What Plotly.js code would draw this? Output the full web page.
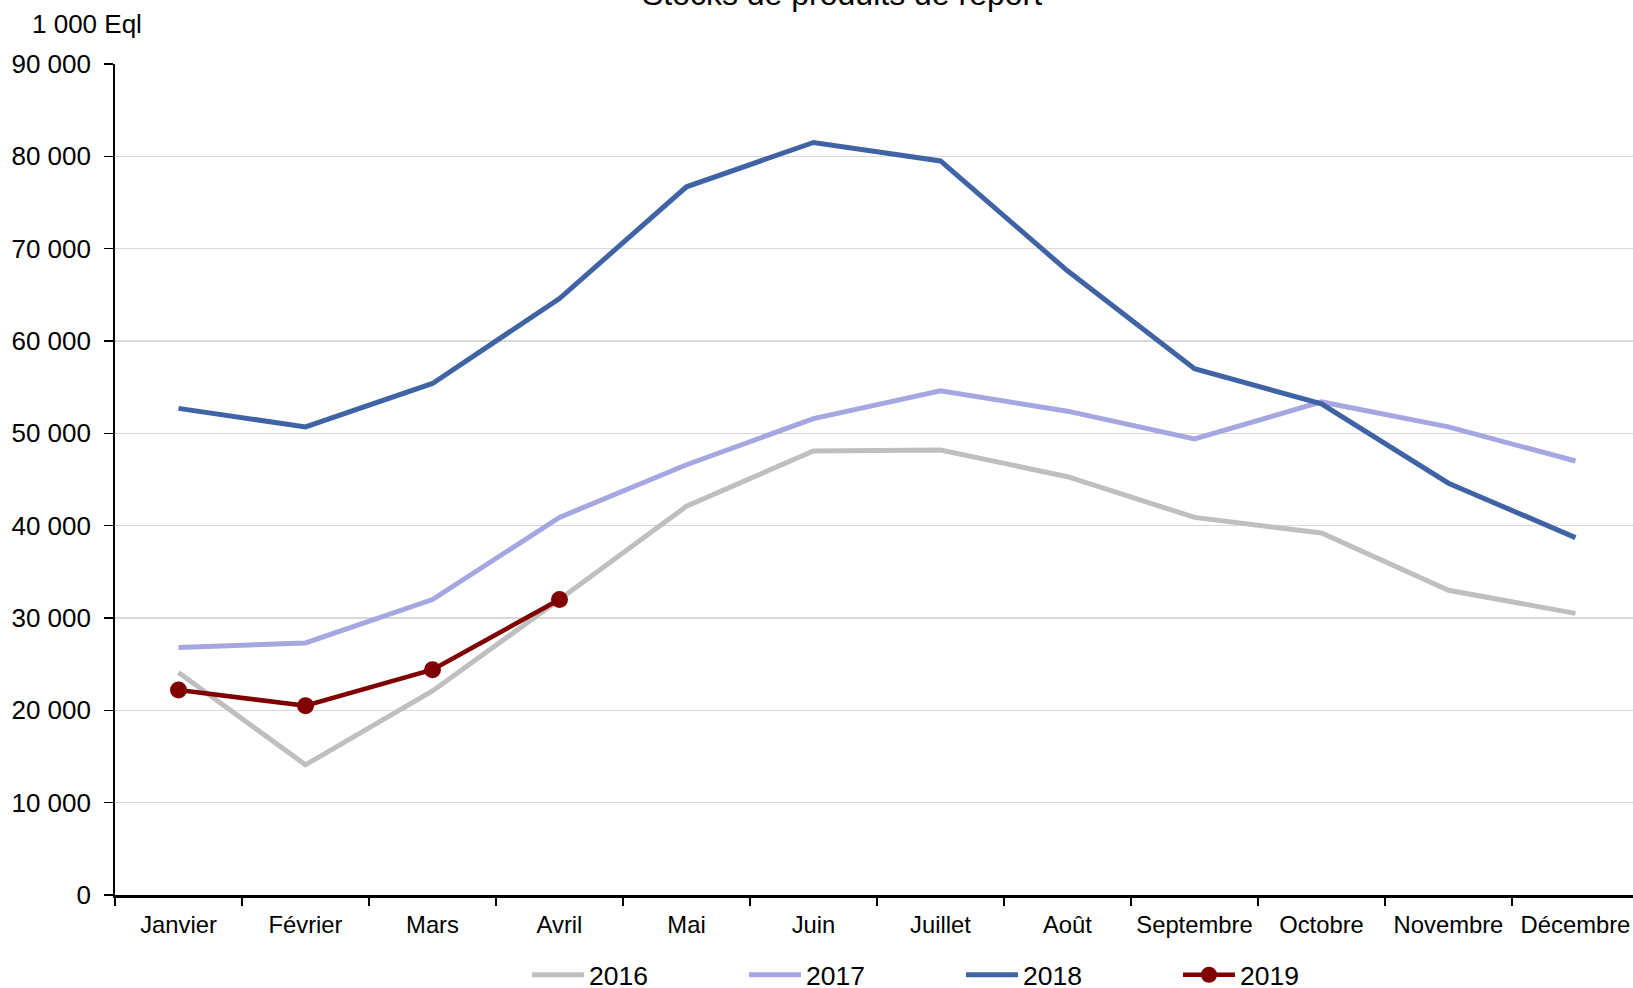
<!DOCTYPE html>
<html>
<head>
<meta charset="utf-8">
<script src="https://cdn.plot.ly/plotly-3.0.1.min.js"></script>
<style>
  html, body { margin: 0; padding: 0; background: #fff; overflow: hidden; }
  #chart { width: 1633px; height: 988px; }
</style>
</head>
<body>
<div id="chart"></div>
<script>
const months = ["Janvier", "Février", "Mars", "Avril", "Mai", "Juin", "Juillet", "Août", "Septembre", "Octobre", "Novembre", "Décembre"];
const s2016 = [24100, 14100, 22100, 32000, 42100, 48100, 48200, 45300, 40900, 39200, 33000, 30500];
const s2017 = [26800, 27300, 32000, 40900, 46600, 51600, 54600, 52400, 49400, 53400, 50700, 47000];
const s2018 = [52700, 50700, 55400, 64600, 76700, 81500, 79500, 67600, 57000, 53200, 44600, 38700];
const s2019 = [22200, 20500, 24400, 32000];
const seriesNames = ["2016", "2017", "2018", "2019"];
const yTicks = [0, 10000, 20000, 30000, 40000, 50000, 60000, 70000, 80000, 90000];

const FONT = "'Liberation Sans', Arial, sans-serif";
const FS_X = 23.8;
const FS_Y = 26;

const traces = [
  { x: months, y: s2016, name: seriesNames[0], type: "scatter", mode: "lines",
    line: { color: "#BFBFBF", width: 5 } },
  { x: months, y: s2017, name: seriesNames[1], type: "scatter", mode: "lines",
    line: { color: "#A6A6E0", width: 5 } },
  { x: months, y: s2018, name: seriesNames[2], type: "scatter", mode: "lines",
    line: { color: "#3F63A5", width: 5 } },
  { x: months.slice(0, s2019.length), y: s2019, name: seriesNames[3], type: "scatter", mode: "lines+markers",
    line: { color: "#800000", width: 4.6 },
    marker: { color: "#800000", size: 17, symbol: "circle" } }
];

const layout = {
  width: 1633,
  height: 988,
  margin: { l: 115, r: 0, t: 64, b: 93, pad: 0 },
  paper_bgcolor: "#ffffff",
  plot_bgcolor: "#ffffff",
  font: { family: FONT, size: FS_X, color: "#000000" },
  separators: ", ",
  title: {
    text: "Stocks de produits de report",
    font: { family: FONT, size: 32, color: "#000000" },
    xref: "container", yref: "container",
    x: 842 / 1633, xanchor: "center",
    y: 1 - 5 / 988, yanchor: "bottom"
  },
  xaxis: {
    type: "category",
    categoryorder: "array",
    categoryarray: months,
    range: [-0.5, 11.453],
    showgrid: false,
    zeroline: false,
    showline: true,
    linecolor: "#000000",
    linewidth: 2.5,
    ticks: "outside",
    tickson: "boundaries",
    ticklen: 8,
    tickwidth: 1.5,
    tickcolor: "#000000",
    tickfont: { family: FONT, size: FS_X, color: "#000000" },
    ticklabelstandoff: 7,
    fixedrange: true
  },
  yaxis: {
    range: [0, 90000],
    tickvals: yTicks,
    tickformat: ",.0f",
    showgrid: true,
    gridcolor: "#D9D9D9",
    gridwidth: 1.6,
    zeroline: false,
    showline: true,
    linecolor: "#000000",
    linewidth: 1.8,
    ticks: "outside",
    ticklen: 9,
    tickwidth: 1.5,
    tickcolor: "#000000",
    tickfont: { family: FONT, size: FS_Y, color: "#000000" },
    ticklabelstandoff: 8,
    fixedrange: true
  },
  showlegend: true,
  legend: {
    orientation: "h",
    xref: "container", yref: "container",
    x: 527 / 1633, xanchor: "left",
    y: 1 - 975 / 988, yanchor: "middle",
    itemwidth: 52,
    entrywidth: 150,
    font: { family: FONT, size: 26.5, color: "#000000" },
    bgcolor: "rgba(0,0,0,0)",
    traceorder: "normal"
  },
  annotations: [
    {
      text: "1 000 Eql",
      xref: "paper", yref: "paper",
      x: (30 - 115) / 1518, xanchor: "left",
      y: (894.7 - 23) / 831.2, yanchor: "middle",
      showarrow: false,
      font: { family: FONT, size: FS_Y, color: "#000000" }
    }
  ]
};

Plotly.newPlot("chart", traces, layout, { displayModeBar: false, staticPlot: true });
</script>
</body>
</html>
